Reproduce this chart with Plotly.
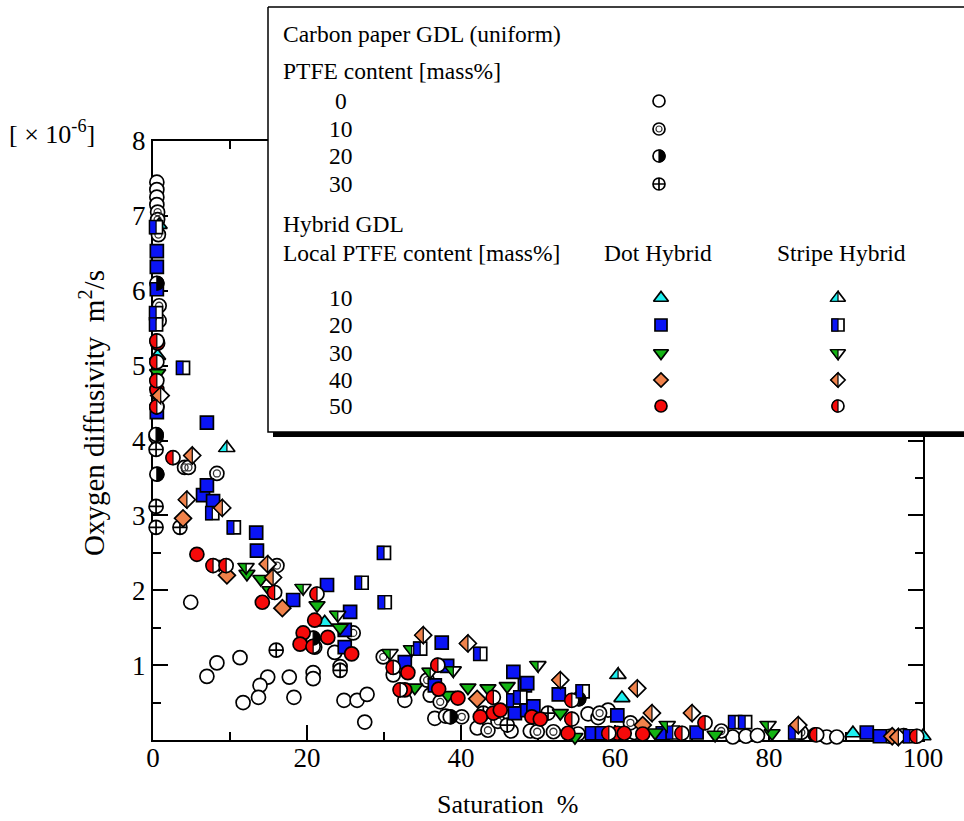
import math
import plotly.graph_objects as go

# ---------------- figure geometry (pixels) ----------------
W, H = 964, 821
PL, PR, PT, PB = 153, 923, 141, 740      # plot area
PAD = 40                                  # extra room for the data subplot (no clipping)

X_RANGE = [0, 100]
Y_RANGE = [0, 8]
X_TICKS = [0, 20, 40, 60, 80, 100]
X_MINOR = [10, 30, 50, 70, 90]
Y_TICKS = [1, 2, 3, 4, 5, 6, 7, 8]
Y_MINOR = [0.5, 1.5, 2.5, 3.5, 4.5, 5.5, 6.5, 7.5]

# ---------------- data: saturation [%], O2 diffusivity [x1e-6 m2/s] ----------------
# Carbon paper GDL (uniform), PTFE content
ptfe0_x = [0.5, 0.5, 0.5, 0.5, 4.9, 11.3, 8.3, 7.0, 14.9, 17.7, 20.8, 20.8, 13.9, 13.7, 11.7, 18.3,
           24.8, 26.5, 27.8, 27.5, 23.6, 21.0, 31.2, 32.7, 36.0, 36.6, 42.1, 38.0, 46.5, 49.0, 55.2,
           56.5, 57.8, 59.1, 62.5, 75.3, 77.0, 78.5, 87.5, 88.8]
ptfe0_y = [7.45, 7.35, 7.25, 7.15, 1.84, 1.10, 1.03, 0.85, 0.84, 0.84, 0.90, 0.82, 0.73, 0.57, 0.50, 0.57,
           0.53, 0.53, 0.61, 0.24, 1.17, 1.24, 0.87, 0.53, 0.60, 0.29, 0.16, 0.32, 0.12, 0.12, 0.08,
           0.35, 0.30, 0.40, 0.10, 0.04, 0.05, 0.06, 0.04, 0.04]
ptfe10_x = [0.6, 0.6, 0.7, 0.8, 0.8, 4.1, 4.6, 8.3, 16.1, 26.0, 24.3, 29.9, 35.6, 37.3, 40.1, 43.5,
            44.8, 49.9, 52.0, 58.0, 62.0, 73.8, 84.2]
ptfe10_y = [7.05, 6.95, 6.75, 5.80, 5.60, 3.64, 3.64, 3.56, 2.33, 1.43, 0.98, 1.11, 0.80, 0.51, 0.31, 0.13,
            0.25, 0.11, 0.11, 0.36, 0.23, 0.12, 0.10]
ptfe20_x = [0.5, 0.4, 0.5, 20.8, 38.6, 55.3, 97.5]
ptfe20_y = [6.10, 4.08, 3.55, 1.36, 0.31, 0.55, 0.06]
ptfe30_x = [0.4, 0.4, 0.4, 0.4, 3.5, 16.0, 24.3, 42.9, 46.0, 51.3, 95.7]
ptfe30_y = [4.05, 3.88, 3.12, 2.84, 2.84, 1.20, 0.93, 0.36, 0.20, 0.36, 0.05]

# Dot hybrid GDL, local PTFE content
dot10_x = [0.8, 0.6, 22.3, 60.9, 90.9, 100.0]
dot10_y = [6.88, 5.13, 1.57, 0.56, 0.09, 0.05]
dot20_x = [0.5, 0.5, 0.5, 0.5, 7.0, 6.5, 7.0, 7.8, 13.4, 13.5, 18.2, 22.6, 25.6, 24.9, 24.9, 37.5, 32.7,
           38.2, 36.6, 46.8, 48.3, 47.0, 48.6, 48.6, 52.7, 49.4, 60.3, 57.0, 58.3, 66.2, 70.6, 92.7, 94.4]
dot20_y = [6.53, 6.32, 6.02, 4.38, 4.24, 3.27, 3.40, 3.19, 2.77, 2.53, 1.87, 2.07, 1.71, 1.47, 1.24, 1.30, 1.04,
           0.99, 0.73, 0.91, 0.73, 0.36, 0.40, 0.76, 0.61, 0.45, 0.33, 0.09, 0.09, 0.09, 0.10, 0.10, 0.05]
dot30_x = [0.6, 8.6, 12.2, 14.0, 15.2, 21.3, 24.3, 34.0, 38.3, 40.9, 43.5, 46.0, 52.9, 54.8, 65.2, 73.0, 80.4]
dot30_y = [4.90, 2.35, 2.22, 2.15, 2.00, 1.80, 1.50, 0.70, 0.60, 0.70, 0.69, 0.72, 0.36, 0.04, 0.10, 0.07, 0.09]
dot40_x = [0.8, 3.9, 9.6, 16.8, 42.1, 63.6, 96.0]
dot40_y = [4.60, 2.96, 2.20, 1.76, 0.55, 0.20, 0.05]
dot50_x = [0.6, 0.5, 0.5, 5.7, 14.2, 21.0, 19.5, 19.1, 22.7, 25.8, 33.1, 32.7, 37.1, 39.6, 42.5, 44.2,
           45.1, 49.2, 50.3, 53.9, 60.3, 61.2, 63.6, 86.0]
dot50_y = [5.30, 4.68, 4.45, 2.48, 1.84, 1.60, 1.43, 1.28, 1.37, 1.15, 0.90, 0.67, 0.68, 0.56, 0.31, 0.36,
           0.40, 0.31, 0.28, 0.09, 0.09, 0.09, 0.08, 0.07]

# Stripe hybrid GDL, local PTFE content
str10_x = [9.6, 60.4]
str10_y = [3.90, 0.87]
str20_x = [0.4, 0.4, 0.4, 3.9, 7.7, 10.5, 30.0, 27.1, 30.1, 34.7, 42.5, 46.8, 47.7, 55.8, 67.5, 75.6,
           76.9, 83.4, 98.3]
str20_y = [6.85, 5.70, 5.55, 4.97, 3.03, 2.84, 2.50, 2.10, 1.84, 1.22, 1.15, 0.53, 0.57, 0.65, 0.10, 0.24,
           0.24, 0.10, 0.05]
str30_x = [12.1, 19.5, 24.0, 30.8, 33.6, 36.0, 39.0, 50.0, 66.8, 79.9]
str30_y = [2.31, 2.03, 1.67, 1.16, 1.21, 0.91, 0.93, 1.00, 0.20, 0.20]
str40_x = [1.0, 5.1, 4.4, 9.0, 14.9, 15.6, 35.1, 40.9, 52.9, 62.9, 64.8, 70.0, 83.8, 96.8]
str40_y = [4.60, 3.80, 3.21, 3.10, 2.35, 2.17, 1.40, 1.29, 0.80, 0.69, 0.36, 0.36, 0.20, 0.04]
str50_x = [0.5, 0.5, 0.5, 0.5, 2.6, 7.8, 9.5, 15.8, 21.3, 20.8, 31.2, 32.1, 37.0, 44.2, 54.4, 54.4,
           59.2, 68.7, 71.7, 86.2, 99.2]
str50_y = [5.33, 5.05, 4.80, 4.45, 3.77, 2.33, 2.33, 1.97, 1.95, 1.25, 0.97, 0.67, 1.00, 0.57, 0.53, 0.28,
           0.09, 0.09, 0.23, 0.07, 0.05]

# ---------------- styles ----------------
CYAN, BLUE, GREEN, ORANGE, RED = "#1ef0f0", "#0a14f5", "#14b414", "#f0824b", "#f50a0a"
FONT = "Liberation Serif"
LW = 1.7
HYB = [  # (label, symbol, colour, data size, legend size, dot series, stripe series)
    ("10", "triangle-up", CYAN, 14, 13, (dot10_x, dot10_y), (str10_x, str10_y)),
    ("20", "square", BLUE, 13, 12, (dot20_x, dot20_y), (str20_x, str20_y)),
    ("30", "triangle-down", GREEN, 14, 13, (dot30_x, dot30_y), (str30_x, str30_y)),
    ("40", "diamond", ORANGE, 13, 11, (dot40_x, dot40_y), (str40_x, str40_y)),
    ("50", "circle", RED, 14, 12, (dot50_x, dot50_y), (str50_x, str50_y)),
]


def fx(px):
    return px / W


def fy(py):
    return 1 - py / H


def half_path(sym, size, side):
    """Half of a plotly marker outline, in pixels (y up); side=-1 left, +1 right."""
    r = size / 2
    if sym == "circle":
        pts = [(side * r * math.sin(math.radians(a)), r * math.cos(math.radians(a))) for a in range(0, 181, 15)]
    elif sym == "square":
        pts = [(0, r), (side * r, r), (side * r, -r), (0, -r)]
    elif sym == "triangle-up":
        rt, r2 = r * 2 / math.sqrt(3), r / 2
        pts = [(0, r), (side * rt, -r2), (0, -r2)]
    elif sym == "triangle-down":
        rt, r2 = r * 2 / math.sqrt(3), r / 2
        pts = [(0, -r), (side * rt, r2), (0, r2)]
    else:  # diamond
        rd = r * 1.3
        pts = [(0, rd), (side * rd, 0), (0, -rd)]
    return "M" + "L".join(f"{x:.2f},{y:.2f}" for x, y in pts) + "Z"


fig = go.Figure()
shapes = []

# subplot 1: the visible axes only
fig.add_trace(go.Scatter(x=[], y=[], xaxis="x", yaxis="y", showlegend=False))

DATA_AX = dict(xaxis="x2", yaxis="y2")
LEG_AX = dict(xaxis="x3", yaxis="y3")


def markers(xs, ys, sym, size, fill, axes, line_color="black", lw=LW):
    fig.add_trace(go.Scatter(x=xs, y=ys, mode="markers", showlegend=False, cliponaxis=False,
                             hoverinfo="skip",
                             marker=dict(symbol=sym, size=size, color=fill,
                                         line=dict(color=line_color, width=lw)), **axes))


def halves(xs, ys, sym, size, color, side, xref, yref):
    path = half_path(sym, size, side)
    for x, y in zip(xs, ys):
        shapes.append(dict(type="path", xref=xref, yref=yref, xsizemode="pixel", ysizemode="pixel",
                           xanchor=x, yanchor=y, path=path, fillcolor=color,
                           line=dict(color="black", width=1.2), layer="above"))


# ---- carbon paper series ----
markers(ptfe0_x, ptfe0_y, "circle", 14, "white", DATA_AX)
markers(ptfe10_x, ptfe10_y, "circle", 14, "white", DATA_AX)
markers(ptfe10_x, ptfe10_y, "circle", 7, "rgba(0,0,0,0)", DATA_AX, "#333333", 1.3)
markers(ptfe30_x, ptfe30_y, "circle-cross", 14, "white", DATA_AX)
markers(ptfe20_x, ptfe20_y, "circle", 14, "white", DATA_AX)
halves(ptfe20_x, ptfe20_y, "circle", 14, "black", 1, "x2", "y2")

# ---- hybrid series ----
for lab, sym, col, sz, lsz, dot, stripe in HYB:
    markers(dot[0], dot[1], sym, sz, col, DATA_AX)
for lab, sym, col, sz, lsz, dot, stripe in HYB:
    markers(stripe[0], stripe[1], sym, sz, "white", DATA_AX)
    halves(stripe[0], stripe[1], sym, sz, col, -1, "x2", "y2")

# ---------------- legend box (subplot 3, pixel coordinates) ----------------
BOX_L, BOX_T, BOX_B, BOX_R = 268, 7, 432, 990
SH = 5
fig.add_trace(go.Scatter(x=[BOX_L + SH, BOX_R, BOX_R, BOX_L + SH, BOX_L + SH],
                         y=[BOX_T + SH, BOX_T + SH, BOX_B + SH, BOX_B + SH, BOX_T + SH],
                         fill="toself", fillcolor="black", mode="lines", line=dict(width=0, color="black"),
                         showlegend=False, hoverinfo="skip", **LEG_AX))
fig.add_trace(go.Scatter(x=[BOX_L, BOX_R, BOX_R, BOX_L, BOX_L], y=[BOX_T, BOX_T, BOX_B, BOX_B, BOX_T],
                         fill="toself", fillcolor="white", mode="lines", line=dict(width=1.5, color="black"),
                         showlegend=False, hoverinfo="skip", **LEG_AX))

CARB_LABELS = ["0", "10", "20", "30"]
CARB_Y = [101, 129, 156, 184]
HYB_Y = [298, 325, 353, 380, 406]
NUM_X, CARB_X, DOT_X, STR_X = 341, 659, 661, 838

markers([CARB_X], [CARB_Y[0]], "circle", 12, "white", LEG_AX)
markers([CARB_X], [CARB_Y[1]], "circle", 12, "white", LEG_AX)
markers([CARB_X], [CARB_Y[1]], "circle", 6, "rgba(0,0,0,0)", LEG_AX, "#333333", 1.2)
markers([CARB_X], [CARB_Y[2]], "circle", 12, "white", LEG_AX)
halves([CARB_X], [CARB_Y[2]], "circle", 12, "black", 1, "x3", "y3")
markers([CARB_X], [CARB_Y[3]], "circle-cross", 12, "white", LEG_AX)

for (lab, sym, col, sz, lsz, dot, stripe), yy in zip(HYB, HYB_Y):
    markers([DOT_X], [yy], sym, lsz, col, LEG_AX)
    markers([STR_X], [yy], sym, lsz, "white", LEG_AX)
    halves([STR_X], [yy], sym, lsz, col, -1, "x3", "y3")

annotations = []


def text(x, y, s, size=23.5, xanchor="left", xref="x3", yref="y3", angle=0):
    annotations.append(dict(x=x, y=y, xref=xref, yref=yref, text=s, showarrow=False, xanchor=xanchor,
                            yanchor="middle", textangle=angle,
                            font=dict(family=FONT, size=size, color="black")))


text(281, 34, "Carbon paper GDL (uniform)")
text(281, 71, "PTFE content [mass%]")
for lab, yy in zip(CARB_LABELS, CARB_Y):
    text(NUM_X, yy, lab, xanchor="center")
text(281, 224, "Hybrid GDL")
text(281, 253, "Local PTFE content [mass%]")
text(658, 253, "Dot Hybrid", xanchor="center")
text(841, 253, "Stripe Hybrid", xanchor="center")
for (lab, *_), yy in zip(HYB, HYB_Y):
    text(NUM_X, yy, lab, xanchor="center")

# axis titles and scale note
text(fx(508), fy(804), "Saturation  %", size=26, xanchor="center", xref="paper", yref="paper")
text(fx(92), fy(413), "Oxygen diffusivity  m<sup>2</sup>/s", size=29, xanchor="center",
     xref="paper", yref="paper", angle=-90)
text(fx(52), fy(132), "[ × 10<sup>-6</sup>]", size=26, xanchor="center", xref="paper", yref="paper")

TICKFONT = dict(family=FONT, size=27, color="black")
vis_common = dict(showline=True, linecolor="black", linewidth=2, mirror="ticks", ticks="inside",
                  ticklen=15, tickwidth=1.5, tickcolor="black", tickmode="array", tickfont=TICKFONT,
                  showgrid=False, zeroline=False, fixedrange=True, automargin=False)
hidden = dict(visible=False, showgrid=False, zeroline=False, fixedrange=True, automargin=False)

fig.update_layout(
    template="none",
    width=W, height=H, autosize=False,
    margin=dict(l=0, r=0, t=0, b=0, pad=0, autoexpand=False),
    paper_bgcolor="white", plot_bgcolor="rgba(0,0,0,0)",
    showlegend=False,
    xaxis=dict(domain=[fx(PL), fx(PR)], range=X_RANGE, anchor="y", tickvals=X_TICKS,
               ticktext=[str(v) for v in X_TICKS], ticklabelstandoff=-7,
               minor=dict(tickmode="array", tickvals=X_MINOR, ticks="inside", ticklen=8, tickwidth=1.5,
                          tickcolor="black", showgrid=False), **vis_common),
    yaxis=dict(domain=[fy(PB), fy(PT)], range=Y_RANGE, anchor="x", tickvals=Y_TICKS,
               ticktext=[str(v) for v in Y_TICKS],
               minor=dict(tickmode="array", tickvals=Y_MINOR, ticks="inside", ticklen=8, tickwidth=1.5,
                          tickcolor="black", showgrid=False), **vis_common),
    xaxis2=dict(domain=[fx(PL - PAD), fx(PR + PAD)], anchor="y2",
                range=[X_RANGE[0] - PAD * (X_RANGE[1] - X_RANGE[0]) / (PR - PL),
                       X_RANGE[1] + PAD * (X_RANGE[1] - X_RANGE[0]) / (PR - PL)], **hidden),
    yaxis2=dict(domain=[fy(PB + PAD), fy(PT - PAD)], anchor="x2",
                range=[Y_RANGE[0] - PAD * (Y_RANGE[1] - Y_RANGE[0]) / (PB - PT),
                       Y_RANGE[1] + PAD * (Y_RANGE[1] - Y_RANGE[0]) / (PB - PT)], **hidden),
    xaxis3=dict(domain=[fx(262), 1], range=[262, W], anchor="y3", **hidden),
    yaxis3=dict(domain=[fy(444), fy(2)], range=[444, 2], anchor="x3", **hidden),
    shapes=shapes,
    annotations=annotations,
)

fig.write_html("out.html", config={"displayModeBar": False})
